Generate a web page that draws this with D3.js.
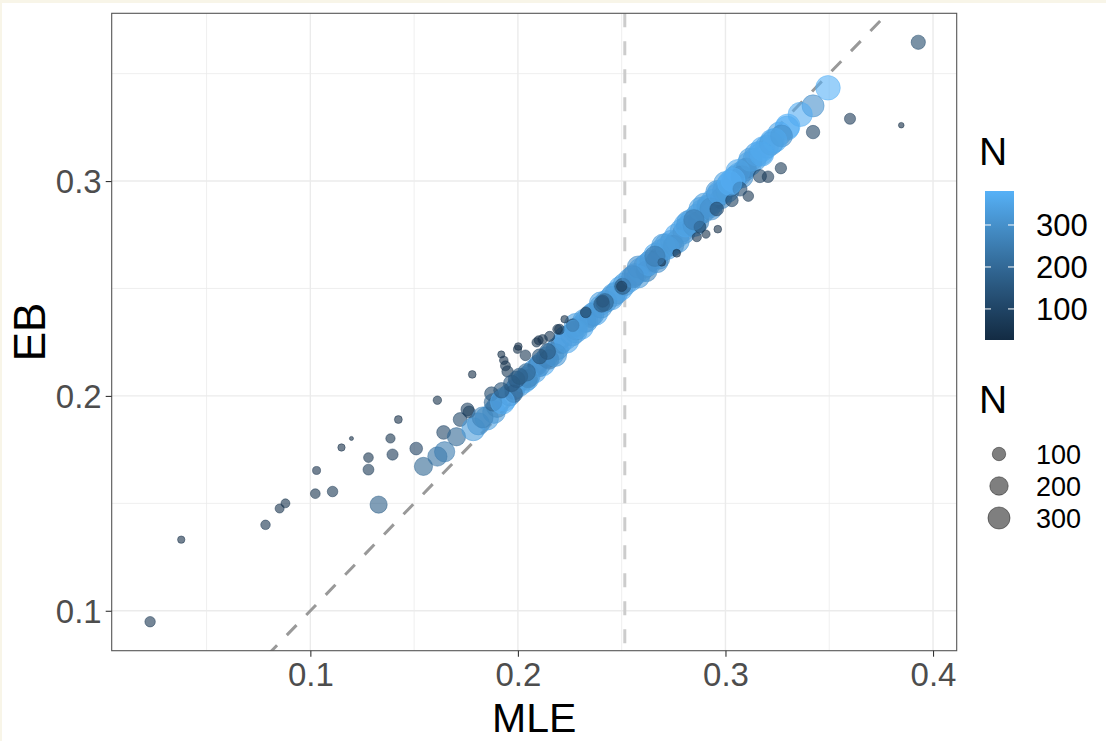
<!DOCTYPE html>
<html><head><meta charset="utf-8">
<script src="https://cdn.jsdelivr.net/npm/d3@7"></script>
<style>
body{margin:0;background:#fff;}
svg{display:block;}
text{font-family:"Liberation Sans", Arial, Helvetica, sans-serif;}
</style>
</head><body>
<svg id="chart" width="1106" height="741"></svg>
<script>
// ---- data ----
// band of well-sampled units first, then the scattered units
const mle = [
  0.181,0.185,0.1885,0.190,0.1935,0.196,0.1985,0.2005,0.203,0.2055,0.208,0.2095,0.212,0.214,0.2165,0.219,0.221,0.2235,0.226,0.228,
  0.2305,0.233,0.235,0.2375,0.240,0.2425,0.245,0.2475,0.2495,0.2515,
  0.254,0.2565,0.259,0.2615,0.264,0.2665,0.269,0.2715,0.274,0.2765,0.279,0.2815,0.284,0.2865,0.289,0.2915,0.294,0.2965,0.299,0.3015,
  0.304,0.3065,0.309,0.3115,0.314,0.317,0.320,0.3225,0.326,0.330,
  0.262,0.268,0.275,0.280,0.287,0.292,0.298,0.300,0.305,0.310,0.315,0.258,0.270,0.282,0.290,0.296,0.223,0.232,0.240,0.215,0.205,0.198,0.218,
  0.258,0.263,0.267,0.272,0.277,0.281,0.285,0.288,0.293,0.297,0.301,0.306,0.308,0.312,0.318,0.322,0.246,0.236,0.228,0.210,0.2045,
  0.0228,0.0378,0.0784,0.0852,0.0880,0.1024,0.1030,0.1107,0.1150,0.1198,0.1280,0.1280,0.1329,0.1386,0.1396,0.1424,0.1510,0.1545,0.1612,0.1612,
  0.1647,0.1642,0.1704,0.1722,0.1757,0.1765,0.1780,0.1785,0.1830,0.1873,0.1880,0.1926,0.1921,0.1920,0.1932,0.1940,0.1950,0.1970,0.1998,0.2036,
  0.1994,0.2008,0.2042,0.2105,0.2119,0.2090,0.2143,0.2201,0.2225,0.2002,0.2100,0.2153,0.2191,0.2264,0.2278,0.2327,0.2404,0.2409,0.2505,0.2553,0.2418,
  0.3929,0.3494,0.3422,0.3360,0.3600,0.3847,0.3422,0.3296,0.3270,0.3238,0.3267,0.3175,0.3166,0.3205,0.3110,0.3036,0.3031,0.3070,0.3020,0.2963,
  0.2906,0.2862,0.2877,0.2848,0.2958,0.2765,0.2693,0.2660,0.2500
];
const eb = [
  0.1870,0.1895,0.1925,0.1950,0.1985,0.2005,0.2030,0.2050,0.2070,0.2095,0.2115,0.2140,0.2150,0.2180,0.2195,0.2220,0.2245,0.2255,0.2285,0.2310,
  0.2320,0.2350,0.2370,0.2385,0.2415,0.2440,0.2455,0.2480,0.2500,0.2520,
  0.2540,0.2565,0.2585,0.2605,0.2630,0.2655,0.2675,0.2700,0.2720,0.2745,0.2770,0.2790,0.2815,0.2840,0.2860,0.2885,0.2905,0.2935,0.2955,0.2980,
  0.3005,0.3030,0.3050,0.3080,0.3100,0.3130,0.3160,0.3185,0.3220,0.3255,
  0.2580,0.2640,0.2700,0.2760,0.2810,0.2880,0.2920,0.2990,0.3020,0.3060,0.3125,0.2600,0.2700,0.2810,0.2890,0.2950,0.2270,0.2350,0.2430,0.2170,0.2080,0.2010,0.2190,
  0.2555,0.2615,0.2625,0.2690,0.2720,0.2795,0.2795,0.2870,0.2870,0.2945,0.2955,0.3045,0.3020,0.3100,0.3150,0.3175,0.2470,0.2380,0.2330,0.2140,0.2080,
  0.0949,0.1331,0.1400,0.1476,0.1500,0.1545,0.1653,0.1555,0.1760,0.1802,0.1657,0.1713,0.1494,0.1802,0.1727,0.1890,0.1755,0.1672,0.1980,0.1718,
  0.1740,0.1830,0.1810,0.1890,0.1937,0.1925,0.2100,0.1845,0.1900,0.2010,0.1970,0.1972,0.2026,0.2193,0.2166,0.2140,0.2114,0.2058,0.2217,0.2189,
  0.2077,0.2091,0.2110,0.2184,0.2263,0.2249,0.2207,0.2310,0.2357,0.2230,0.2259,0.2277,0.2310,0.2329,0.2301,0.2389,0.2427,0.2441,0.2510,0.2555,0.2436,
  0.3646,0.3434,0.3350,0.3310,0.3290,0.3260,0.3228,0.3246,0.3210,0.3190,0.3060,0.3125,0.3023,0.3020,0.2930,0.3005,0.2910,0.2963,0.2990,0.2776,
  0.2753,0.2739,0.2786,0.2820,0.2870,0.2664,0.2622,0.2650,0.2510
];
const nObs = [
  300,340,320,280,360,300,250,330,360,290,350,210,370,270,340,300,250,360,320,280,
  370,330,300,360,320,290,350,310,370,330,
  350,300,370,340,290,370,320,360,300,370,340,280,370,330,360,300,370,340,290,370,
  320,360,300,370,340,380,330,370,350,380,
  260,280,250,300,260,330,270,340,320,250,350,300,330,310,340,320,350,330,340,230,200,180,320,
  320,350,300,340,330,360,320,340,300,350,330,360,300,340,370,340,330,320,340,300,330,
  60,35,51,47,46,53,39,61,35,26,65,53,170,49,68,38,89,194,42,222,
  248,105,196,108,93,80,37,330,267,108,181,370,137,34,43,55,71,156,40,63,
  159,154,182,127,52,49,147,57,36,37,47,57,52,89,340,64,147,82,150,300,181,
  113,381,300,370,68,28,100,370,296,360,71,360,95,74,62,370,87,112,370,37,
  41,48,78,250,105,38,38,250,60
];
const xMajorTicks = [0.1, 0.2, 0.3, 0.4];
const xMinorTicks = [0.05, 0.15, 0.25, 0.35];
const yMajorTicks = [0.1, 0.2, 0.3];
const yMinorTicks = [0.15, 0.25, 0.35];
const legendBreaks = [100, 200, 300];
const meanMLE = 0.2515;
const xTitle = "MLE", yTitle = "EB", legendTitle = "N";

// ---- layout ----
const W = 1106, H = 741;
const P = {left: 111.7, right: 956.7, top: 13.3, bottom: 650.7};
const svg = d3.select("#chart");

svg.append("rect").attr("width", W).attr("height", H).attr("fill", "#f8f5e8");
svg.append("rect").attr("x", 2).attr("y", 3).attr("width", W - 2).attr("height", H - 3).attr("fill", "#ffffff");

function expand(ext) { const p = (ext[1] - ext[0]) * 0.05; return [ext[0] - p, ext[1] + p]; }
const x = d3.scaleLinear().domain(expand(d3.extent(mle))).range([P.left, P.right]);
const y = d3.scaleLinear().domain(expand(d3.extent(eb))).range([P.bottom, P.top]);
const nExt = d3.extent(nObs);
const color = d3.scaleLinear().domain(nExt).range(["#132B43", "#56B1F7"]).interpolate(d3.interpolateLab);
const sizeMap = d3.scaleLinear().domain([0, 1]).range([1, 6]);
const rad = n => 2.05 * sizeMap(Math.sqrt((n - nExt[0]) / (nExt[1] - nExt[0])));

svg.append("defs").append("clipPath").attr("id", "clip")
  .append("rect").attr("x", P.left).attr("y", P.top).attr("width", P.right - P.left).attr("height", P.bottom - P.top);

// grid
const grid = svg.append("g");
grid.selectAll(".xm").data(xMinorTicks).join("line")
  .attr("x1", d => x(d)).attr("x2", d => x(d)).attr("y1", P.top).attr("y2", P.bottom)
  .attr("stroke", "#ebebeb").attr("stroke-width", 0.8);
grid.selectAll(".ym").data(yMinorTicks).join("line")
  .attr("y1", d => y(d)).attr("y2", d => y(d)).attr("x1", P.left).attr("x2", P.right)
  .attr("stroke", "#ebebeb").attr("stroke-width", 0.8);
grid.selectAll(".xM").data(xMajorTicks).join("line")
  .attr("x1", d => x(d)).attr("x2", d => x(d)).attr("y1", P.top).attr("y2", P.bottom)
  .attr("stroke", "#ebebeb").attr("stroke-width", 1.4);
grid.selectAll(".yM").data(yMajorTicks).join("line")
  .attr("y1", d => y(d)).attr("y2", d => y(d)).attr("x1", P.left).attr("x2", P.right)
  .attr("stroke", "#ebebeb").attr("stroke-width", 1.4);

// reference lines
const plot = svg.append("g").attr("clip-path", "url(#clip)");
plot.append("line")
  .attr("x1", x(meanMLE)).attr("x2", x(meanMLE)).attr("y1", P.top).attr("y2", P.bottom)
  .attr("stroke", "#cccccc").attr("stroke-width", 3).attr("stroke-dasharray", "14,14");
const xd = x.domain();
plot.append("line")
  .attr("x1", x(xd[0])).attr("y1", y(xd[0])).attr("x2", x(xd[1])).attr("y2", y(xd[1]))
  .attr("stroke", "#999999").attr("stroke-width", 3).attr("stroke-dasharray", "14,14");

// points
plot.selectAll("circle.pt").data(d3.range(mle.length)).join("circle")
  .attr("class", "pt")
  .attr("cx", i => x(mle[i])).attr("cy", i => y(eb[i])).attr("r", i => rad(nObs[i]))
  .attr("fill", i => color(nObs[i])).attr("fill-opacity", 0.6)
  .attr("stroke", i => color(nObs[i])).attr("stroke-opacity", 0.6).attr("stroke-width", 0.8);

// panel border
svg.append("rect").attr("x", P.left).attr("y", P.top).attr("width", P.right - P.left).attr("height", P.bottom - P.top)
  .attr("fill", "none").attr("stroke", "#555555").attr("stroke-width", 1.1);

// axes
const fmt = d3.format(".1f");
const xAxis = svg.append("g").attr("transform", `translate(0,${P.bottom})`)
  .call(d3.axisBottom(x).tickValues(xMajorTicks).tickFormat(fmt).tickSize(6).tickPadding(3));
const yAxis = svg.append("g").attr("transform", `translate(${P.left},0)`)
  .call(d3.axisLeft(y).tickValues(yMajorTicks).tickFormat(fmt).tickSize(6).tickPadding(4));
[xAxis, yAxis].forEach(a => {
  a.select(".domain").remove();
  a.selectAll(".tick line").attr("stroke", "#333333").attr("stroke-width", 1.1);
  a.selectAll(".tick text").attr("fill", "#4d4d4d").style("font-size", "33px")
   .style("font-family", "'Liberation Sans', Arial, sans-serif");
});
xAxis.selectAll(".tick text").attr("dy", "0.8em");
yAxis.selectAll(".tick text").attr("dy", "0.36em");

svg.append("text").attr("x", (P.left + P.right) / 2).attr("y", 732).attr("text-anchor", "middle")
  .style("font-size", "41px").attr("fill", "#000").text(xTitle);
svg.append("text").attr("transform", `translate(45,${(P.top + P.bottom) / 2}) rotate(-90)`).attr("text-anchor", "middle")
  .style("font-size", "44px").attr("fill", "#000").text(yTitle);

// colour legend
const cb = {x: 985, y: 191, w: 29, h: 149};
const grad = svg.select("defs").append("linearGradient").attr("id", "cgrad")
  .attr("x1", 0).attr("x2", 0).attr("y1", 1).attr("y2", 0);
d3.range(0, 1.0001, 0.05).forEach(t => {
  grad.append("stop").attr("offset", t).attr("stop-color", color(nExt[0] + t * (nExt[1] - nExt[0])));
});
svg.append("text").attr("x", 979).attr("y", 165).style("font-size", "39px").attr("fill", "#000").text(legendTitle);
svg.append("rect").attr("x", cb.x).attr("y", cb.y).attr("width", cb.w).attr("height", cb.h).attr("fill", "url(#cgrad)");
const cbScale = d3.scaleLinear().domain(nExt).range([cb.y + cb.h, cb.y]);
const cbT = svg.append("g");
legendBreaks.forEach(v => {
  const yy = cbScale(v);
  cbT.append("line").attr("x1", cb.x).attr("x2", cb.x + 6).attr("y1", yy).attr("y2", yy).attr("stroke", "#fff").attr("stroke-width", 1);
  cbT.append("line").attr("x1", cb.x + cb.w - 6).attr("x2", cb.x + cb.w).attr("y1", yy).attr("y2", yy).attr("stroke", "#fff").attr("stroke-width", 1);
  cbT.append("text").attr("x", 1036).attr("y", yy).attr("dy", "0.36em").style("font-size", "31px").attr("fill", "#000").text(v);
});

// size legend
svg.append("text").attr("x", 979).attr("y", 413).style("font-size", "39px").attr("fill", "#000").text(legendTitle);
const keyY = [454, 486, 518];
legendBreaks.forEach((v, i) => {
  svg.append("circle").attr("cx", 999).attr("cy", keyY[i]).attr("r", rad(v))
    .attr("fill", "#000").attr("fill-opacity", 0.5).attr("stroke", "#000").attr("stroke-opacity", 0.5).attr("stroke-width", 0.8);
  svg.append("text").attr("x", 1036).attr("y", keyY[i]).attr("dy", "0.36em").style("font-size", "27px").attr("fill", "#000").text(v);
});
</script>
</body></html>
